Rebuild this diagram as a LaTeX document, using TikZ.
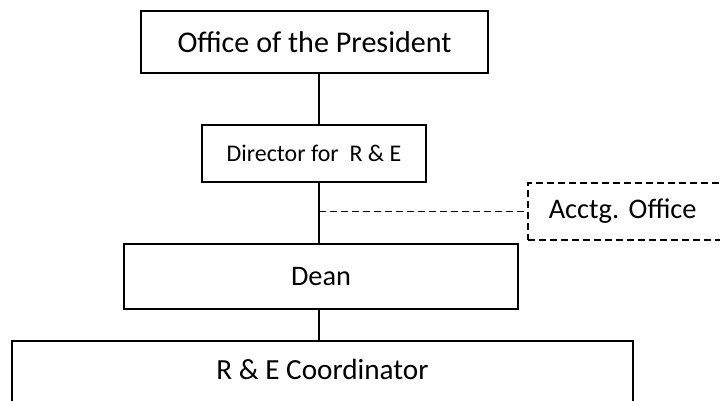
\documentclass[tikz,border=0pt]{standalone}
\usepackage{fontspec}
\setmainfont{Carlito}
\frenchspacing
\begin{document}
\begin{tikzpicture}[x=1pt,y=-1pt,
  box/.style={draw=black, line width=1.5pt, rectangle, inner sep=0pt, font=\fontsize{29}{34}\selectfont},
  dbox/.style={box, dash pattern=on 7pt off 4pt},
  conn/.style={draw=black, line width=1.5pt},
  dconn/.style={conn, dash pattern=on 7pt off 4pt}]
\useasboundingbox (0,0) rectangle (720,401);
\clip (0,0) rectangle (720,401);
\coordinate (spine) at (319,0);
\node[box, minimum width=347pt, minimum height=62pt, font=\fontsize{30.1}{35}\selectfont] (pres) at (314.5,42) {Office of the President};
\node[box, minimum width=224pt, minimum height=57pt, font=\fontsize{23.9}{28}\selectfont] (dir) at (314,153.5) {Director for\ \ R \& E};
\node[dbox, anchor=west, minimum height=57pt, text width=190pt, align=left, inner xsep=21pt, font=\fontsize{28.4}{33}\selectfont] (acct) at (527,211.5) {Acctg.\ Office};
\node[box, minimum width=394pt, minimum height=65pt, font=\fontsize{28.3}{33}\selectfont] (dean) at (321,276.5) {Dean};
\node[box, anchor=north, minimum width=621pt, minimum height=90pt] (coord) at (322.5,340) {};
\node[font=\fontsize{29.2}{34}\selectfont, inner sep=0pt] (coordtext) at (322.5,369) {R \& E Coordinator};
\draw[conn] (pres.south -| spine) -- (dir.north -| spine);
\draw[conn] (dir.south -| spine) -- (dean.north -| spine);
\draw[conn] (dean.south -| spine) -- (coord.north -| spine);
\draw[dconn] (spine |- acct.west) -- (acct.west);
\end{tikzpicture}
\end{document}
